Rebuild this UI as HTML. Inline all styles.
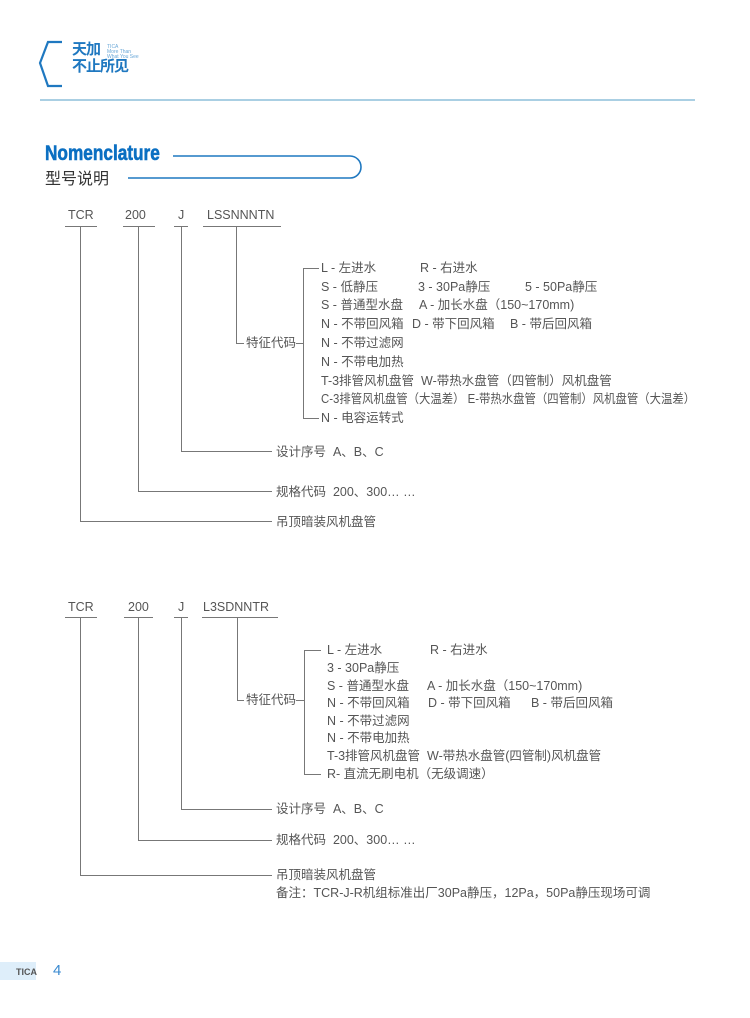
<!DOCTYPE html>
<html><head><meta charset="utf-8"><style>
body{margin:0;width:750px;height:1018px;background:#fff;position:relative;overflow:hidden;font-family:"Liberation Sans","Noto Sans CJK SC",sans-serif;color:#555}
.t{position:absolute;font-size:12.5px;line-height:14px;white-space:nowrap;color:#555}
</style></head><body>
<svg width="750" height="1018" style="position:absolute;left:0;top:0">
<path d="M62 42 L48 42 L40 63 L48 86 L62 86" fill="none" stroke="#1f78c0" stroke-width="2.2"/>
<line x1="40" y1="100" x2="695" y2="100" stroke="#8dbfda" stroke-width="1.5"/>
<path d="M173 156 L350 156 A11 11 0 0 1 350 178 L128 178" fill="none" stroke="#1f78c0" stroke-width="1.6"/>
<rect x="0" y="962" width="36" height="18" fill="#deeefa"/>
<g stroke="#777" stroke-width="1" fill="none">
<line x1="65" y1="226.5" x2="97" y2="226.5"/><line x1="123" y1="226.5" x2="155" y2="226.5"/><line x1="174" y1="226.5" x2="188" y2="226.5"/><line x1="203" y1="226.5" x2="281" y2="226.5"/>
<path d="M80.5 227 V521.5 H272"/><path d="M138.5 227 V491.5 H272"/><path d="M181.5 227 V451.5 H272"/><path d="M236.5 227 V343.5 H244"/>
<path d="M296 343.5 H303.5"/><path d="M319 268.5 H303.5 V418.5 H319"/>
<line x1="65" y1="617.5" x2="97" y2="617.5"/><line x1="124" y1="617.5" x2="153" y2="617.5"/><line x1="174" y1="617.5" x2="188" y2="617.5"/><line x1="202" y1="617.5" x2="278" y2="617.5"/>
<path d="M80.5 618 V875.5 H272"/><path d="M138.5 618 V840.5 H272"/><path d="M181.5 618 V809.5 H272"/><path d="M237.5 618 V700.5 H244"/>
<path d="M296 700.5 H304.5"/><path d="M321 650.5 H304.5 V774.5 H321"/>
</g>
</svg>
<div class="t" style="left:72px;top:43px;font-size:15px;font-weight:bold;color:#1f78c0;letter-spacing:-1px">天加</div>
<div class="t" style="left:72px;top:60px;font-size:15px;font-weight:bold;color:#1f78c0;letter-spacing:-1px">不止所见</div>
<div class="t" style="left:107px;top:45px;font-size:5px;line-height:5px;color:#6aa8d8">TICA<br>More Than<br>What You See</div>
<div class="t" style="left:45px;top:142px;font-size:21px;line-height:23px;font-weight:900;color:#0a6fc2;transform:scaleX(0.82);transform-origin:left;-webkit-text-stroke:0.6px #0a6fc2">Nomenclature</div>
<div class="t" style="left:45px;top:171px;font-size:16px;line-height:18px;color:#333">型号说明</div>

<div class="t" style="left:68px;top:208px">TCR</div><div class="t" style="left:125px;top:208px">200</div><div class="t" style="left:178px;top:208px">J</div><div class="t" style="left:207px;top:208px">LSSNNNTN</div>
<div class="t" style="left:246px;top:336px">特征代码</div>
<div class="t" style="left:321px;top:261px">L - 左进水</div><div class="t" style="left:420px;top:261px">R - 右进水</div>
<div class="t" style="left:321px;top:280px">S - 低静压</div><div class="t" style="left:418px;top:280px">3 - 30Pa静压</div><div class="t" style="left:525px;top:280px">5 - 50Pa静压</div>
<div class="t" style="left:321px;top:298px">S - 普通型水盘</div><div class="t" style="left:419px;top:298px">A - 加长水盘（150~170mm)</div>
<div class="t" style="left:321px;top:317px">N - 不带回风箱</div><div class="t" style="left:412px;top:317px">D - 带下回风箱</div><div class="t" style="left:510px;top:317px">B - 带后回风箱</div>
<div class="t" style="left:321px;top:336px">N - 不带过滤网</div>
<div class="t" style="left:321px;top:355px">N - 不带电加热</div>
<div class="t" style="left:321px;top:374px">T-3排管风机盘管&nbsp; W-带热水盘管（四管制）风机盘管</div>
<div class="t" style="left:321px;top:392px;transform:scaleX(0.91);transform-origin:left">C-3排管风机盘管（大温差） E-带热水盘管（四管制）风机盘管（大温差）</div>
<div class="t" style="left:321px;top:411px">N - 电容运转式</div>
<div class="t" style="left:276px;top:445px">设计序号&nbsp; A、B、C</div>
<div class="t" style="left:276px;top:485px">规格代码&nbsp; 200、300… …</div>
<div class="t" style="left:276px;top:515px">吊顶暗装风机盘管</div>

<div class="t" style="left:68px;top:600px">TCR</div><div class="t" style="left:128px;top:600px">200</div><div class="t" style="left:178px;top:600px">J</div><div class="t" style="left:203px;top:600px">L3SDNNTR</div>
<div class="t" style="left:246px;top:693px">特征代码</div>
<div class="t" style="left:327px;top:643px">L - 左进水</div><div class="t" style="left:430px;top:643px">R - 右进水</div>
<div class="t" style="left:327px;top:661px">3 - 30Pa静压</div>
<div class="t" style="left:327px;top:679px">S - 普通型水盘</div><div class="t" style="left:427px;top:679px">A - 加长水盘（150~170mm)</div>
<div class="t" style="left:327px;top:696px">N - 不带回风箱</div><div class="t" style="left:428px;top:696px">D - 带下回风箱</div><div class="t" style="left:531px;top:696px">B - 带后回风箱</div>
<div class="t" style="left:327px;top:714px">N - 不带过滤网</div>
<div class="t" style="left:327px;top:731px">N - 不带电加热</div>
<div class="t" style="left:327px;top:749px">T-3排管风机盘管&nbsp; W-带热水盘管(四管制)风机盘管</div>
<div class="t" style="left:327px;top:767px">R- 直流无刷电机（无级调速）</div>
<div class="t" style="left:276px;top:802px">设计序号&nbsp; A、B、C</div>
<div class="t" style="left:276px;top:833px">规格代码&nbsp; 200、300… …</div>
<div class="t" style="left:276px;top:868px">吊顶暗装风机盘管</div>
<div class="t" style="left:276px;top:886px">备注：TCR-J-R机组标准出厂30Pa静压，12Pa，50Pa静压现场可调</div>

<div class="t" style="left:16px;top:965px;font-size:9px;font-weight:bold;color:#555">TICA</div>
<div class="t" style="left:53px;top:962px;font-size:15px;line-height:17px;color:#3a8ad0">4</div>
</body></html>
